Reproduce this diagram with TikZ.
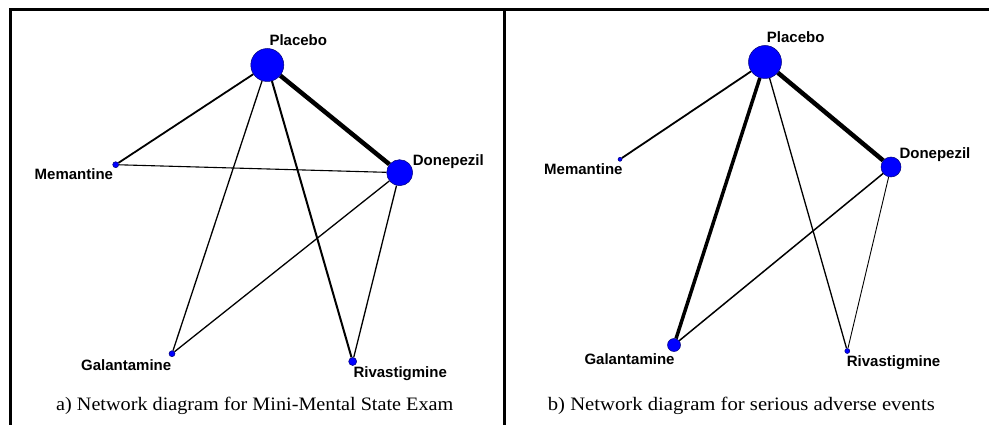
\documentclass[tikz,border=0pt]{standalone}
\usepackage{fontspec}
\setmainfont{Liberation Serif}
\newfontfamily\labfont{Liberation Sans}
\usetikzlibrary{backgrounds}
\definecolor{nodeblue}{RGB}{0,0,255}
\definecolor{nodeedge}{RGB}{0,0,120}
\tikzset{
  trt/.style={circle, inner sep=0pt, fill=nodeblue, draw=nodeedge, line width=0.5pt, minimum size=#1},
  lab/.style={anchor=base west, inner sep=0pt, font=\labfont\bfseries\fontsize{15}{18}\selectfont},
  captext/.style={anchor=base west, inner sep=0pt, font=\fontsize{19}{23}\selectfont},
  framestyle/.style={line width=3pt, black},
  edgew/.style={line width=#1, black}
}
\begin{document}
\begin{tikzpicture}[x=1pt,y=-1pt]
\useasboundingbox (0,0) rectangle (989,425);
% frame
\draw[framestyle] (10.5,425) -- (10.5,9.5) -- (989,9.5);
\draw[framestyle] (504.5,9.5) -- (504.5,425);

% ---------- panel a ----------
\node[trt=33pt] (pA) at (267.3,65) {};
\node[trt=26pt] (dA) at (399.7,172.7) {};
\node[trt=6pt]  (mA) at (115.7,164.7) {};
\node[trt=6pt]  (gA) at (172,353.7) {};
\node[trt=8pt]  (rA) at (352.7,361.5) {};
\begin{scope}[on background layer]
\draw[edgew=4.5pt] (pA) -- (dA);
\draw[edgew=1.8pt] (pA) -- (mA);
\draw[edgew=1.1pt] (mA) -- (dA);
\draw[edgew=1.3pt] (pA) -- (gA);
\draw[edgew=2pt]   (pA) -- (rA);
\draw[edgew=1.3pt] (dA) -- (gA);
\draw[edgew=1.3pt] (dA) -- (rA);
\end{scope}
\node[lab] (lpA) at (269.3,45.7) {Placebo};
\node[lab] (ldA) at (412.7,165.7) {Donepezil};
\node[lab] (lmA) at (34.5,179.5) {Memantine};
\node[lab] (lgA) at (81,370.7) {Galantamine};
\node[lab] (lrA) at (353.3,377) {Rivastigmine};
\node[captext] (capA) at (56,410) {\scalebox{1.063}[1]{a) Network diagram for Mini-Mental State Exam}};

% ---------- panel b ----------
\node[trt=33pt] (pB) at (765,62) {};
\node[trt=20pt] (dB) at (891,167) {};
\node[trt=4pt]  (mB) at (620,159.3) {};
\node[trt=13pt] (gB) at (674,345) {};
\node[trt=5pt]  (rB) at (847.3,351) {};
\begin{scope}[on background layer]
\draw[edgew=4.5pt] (pB) -- (dB);
\draw[edgew=1.8pt] (pB) -- (mB);
\draw[edgew=3.5pt] (pB) -- (gB);
\draw[edgew=1.3pt] (pB) -- (rB);
\draw[edgew=1.5pt] (dB) -- (gB);
\draw[edgew=0.9pt] (dB) -- (rB);
\end{scope}
\node[lab] (lpB) at (766.7,42.3) {Placebo};
\node[lab] (ldB) at (899.3,158.3) {Donepezil};
\node[lab] (lmB) at (544,175) {Memantine};
\node[lab] (lgB) at (584.3,364) {Galantamine};
\node[lab] (lrB) at (846.7,366.7) {Rivastigmine};
\node[captext] (capB) at (547.7,410) {\scalebox{1.088}[1]{b) Network diagram for serious adverse events}};
\end{tikzpicture}
\end{document}
